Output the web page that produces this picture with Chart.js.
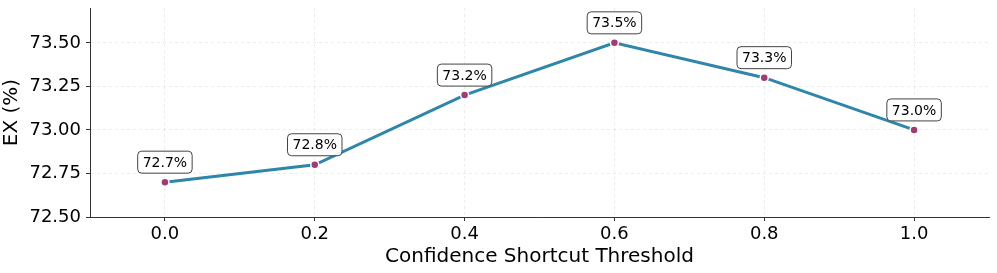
<!DOCTYPE html>
<html>
<head>
<meta charset="utf-8">
<script src="https://cdn.jsdelivr.net/npm/chart.js@4/dist/chart.umd.min.js"></script>
<style>
  html, body { margin: 0; padding: 0; background: #fff; }
  #wrap { width: 997px; height: 273px; }
</style>
</head>
<body>
<div id="wrap"><canvas id="chart" width="997" height="273"></canvas></div>
<script>
// data
const thresholds = [0.0, 0.2, 0.4, 0.6, 0.8, 1.0];
const exScores = [72.7, 72.8, 73.2, 73.5, 73.3, 73.0];
const xTicks = [0.0, 0.2, 0.4, 0.6, 0.8, 1.0];
const yTicks = [72.5, 72.75, 73.0, 73.25, 73.5];

const FONT = "'DejaVu Sans', sans-serif";

// white background
const bgPlugin = {
    id: 'bg',
    beforeDraw(chart) {
        const ctx = chart.ctx;
        ctx.save();
        ctx.fillStyle = '#fff';
        ctx.fillRect(0, 0, chart.width, chart.height);
        ctx.restore();
    }
};

// boxed value labels above each point
const valueLabels = {
    id: 'valueLabels',
    afterDatasetsDraw(chart) {
        const ctx = chart.ctx;
        const meta = chart.getDatasetMeta(0);
        ctx.save();
        ctx.font = '14px ' + FONT;
        ctx.textAlign = 'center';
        ctx.textBaseline = 'middle';
        meta.data.forEach((pt, i) => {
            const text = exScores[i].toFixed(1) + '%';
            const w = ctx.measureText(text).width + 10;
            const h = 22;
            const cx = pt.x;
            const cy = pt.y - 20;
            ctx.beginPath();
            ctx.roundRect(cx - w / 2, cy - h / 2, w, h, 4);
            ctx.fillStyle = 'rgba(255,255,255,0.9)';
            ctx.fill();
            ctx.lineWidth = 1;
            ctx.strokeStyle = '#444';
            ctx.stroke();
            ctx.fillStyle = '#000';
            ctx.fillText(text, cx, cy + 1);
        });
        ctx.restore();
    }
};

const ctx = document.getElementById('chart').getContext('2d');
new Chart(ctx, {
    type: 'line',
    data: {
        datasets: [{
            data: thresholds.map((t, i) => ({ x: t, y: exScores[i] })),
            borderColor: '#2E86AB',
            borderWidth: 3,
            pointBackgroundColor: '#A23B72',
            pointBorderColor: '#fff',
            pointBorderWidth: 1.5,
            pointRadius: 4,
            tension: 0,
            fill: false
        }]
    },
    options: {
        responsive: false,
        animation: false,
        devicePixelRatio: 1,
        layout: { padding: { top: 8, right: 8, left: 0, bottom: 0 } },
        plugins: {
            legend: { display: false },
            tooltip: { enabled: false }
        },
        scales: {
            x: {
                type: 'linear',
                min: -0.1,
                max: 1.1,
                afterBuildTicks: scale => { scale.ticks = xTicks.map(v => ({ value: v })); },
                afterFit: scale => {
                    scale.height = 56;
                    scale.paddingLeft = 0;
                    scale.paddingRight = 0;
                },
                ticks: {
                    color: '#000',
                    font: { family: FONT, size: 18 },
                    padding: 3,
                    callback: v => v.toFixed(1)
                },
                grid: {
                    color: 'rgba(0,0,0,0.09)',
                    lineWidth: 0.8,
                    tickLength: 4,
                    tickColor: '#333',
                    tickWidth: 1,
                    tickBorderDash: []
                },
                border: { color: '#333', width: 1, dash: [3, 3] },
                title: {
                    display: true,
                    text: 'Confidence Shortcut Threshold',
                    color: '#000',
                    font: { family: FONT, size: 20 },
                    padding: { top: 0, bottom: 4 }
                }
            },
            y: {
                min: 72.5,
                max: 73.7,
                afterBuildTicks: scale => { scale.ticks = yTicks.map(v => ({ value: v })); },
                afterFit: scale => {
                    scale.width = 90;
                    scale.paddingTop = 0;
                    scale.paddingBottom = 0;
                },
                ticks: {
                    color: '#000',
                    font: { family: FONT, size: 18 },
                    padding: 5,
                    callback: v => v.toFixed(2)
                },
                grid: {
                    color: 'rgba(0,0,0,0.09)',
                    lineWidth: 0.8,
                    tickLength: 4,
                    tickColor: '#333',
                    tickWidth: 1,
                    tickBorderDash: []
                },
                border: { color: '#333', width: 1, dash: [3, 3] },
                title: {
                    display: true,
                    text: 'EX (%)',
                    color: '#000',
                    font: { family: FONT, size: 20 },
                    padding: { top: 0, bottom: 4 }
                }
            }
        }
    },
    plugins: [bgPlugin, valueLabels]
});
</script>
</body>
</html>
